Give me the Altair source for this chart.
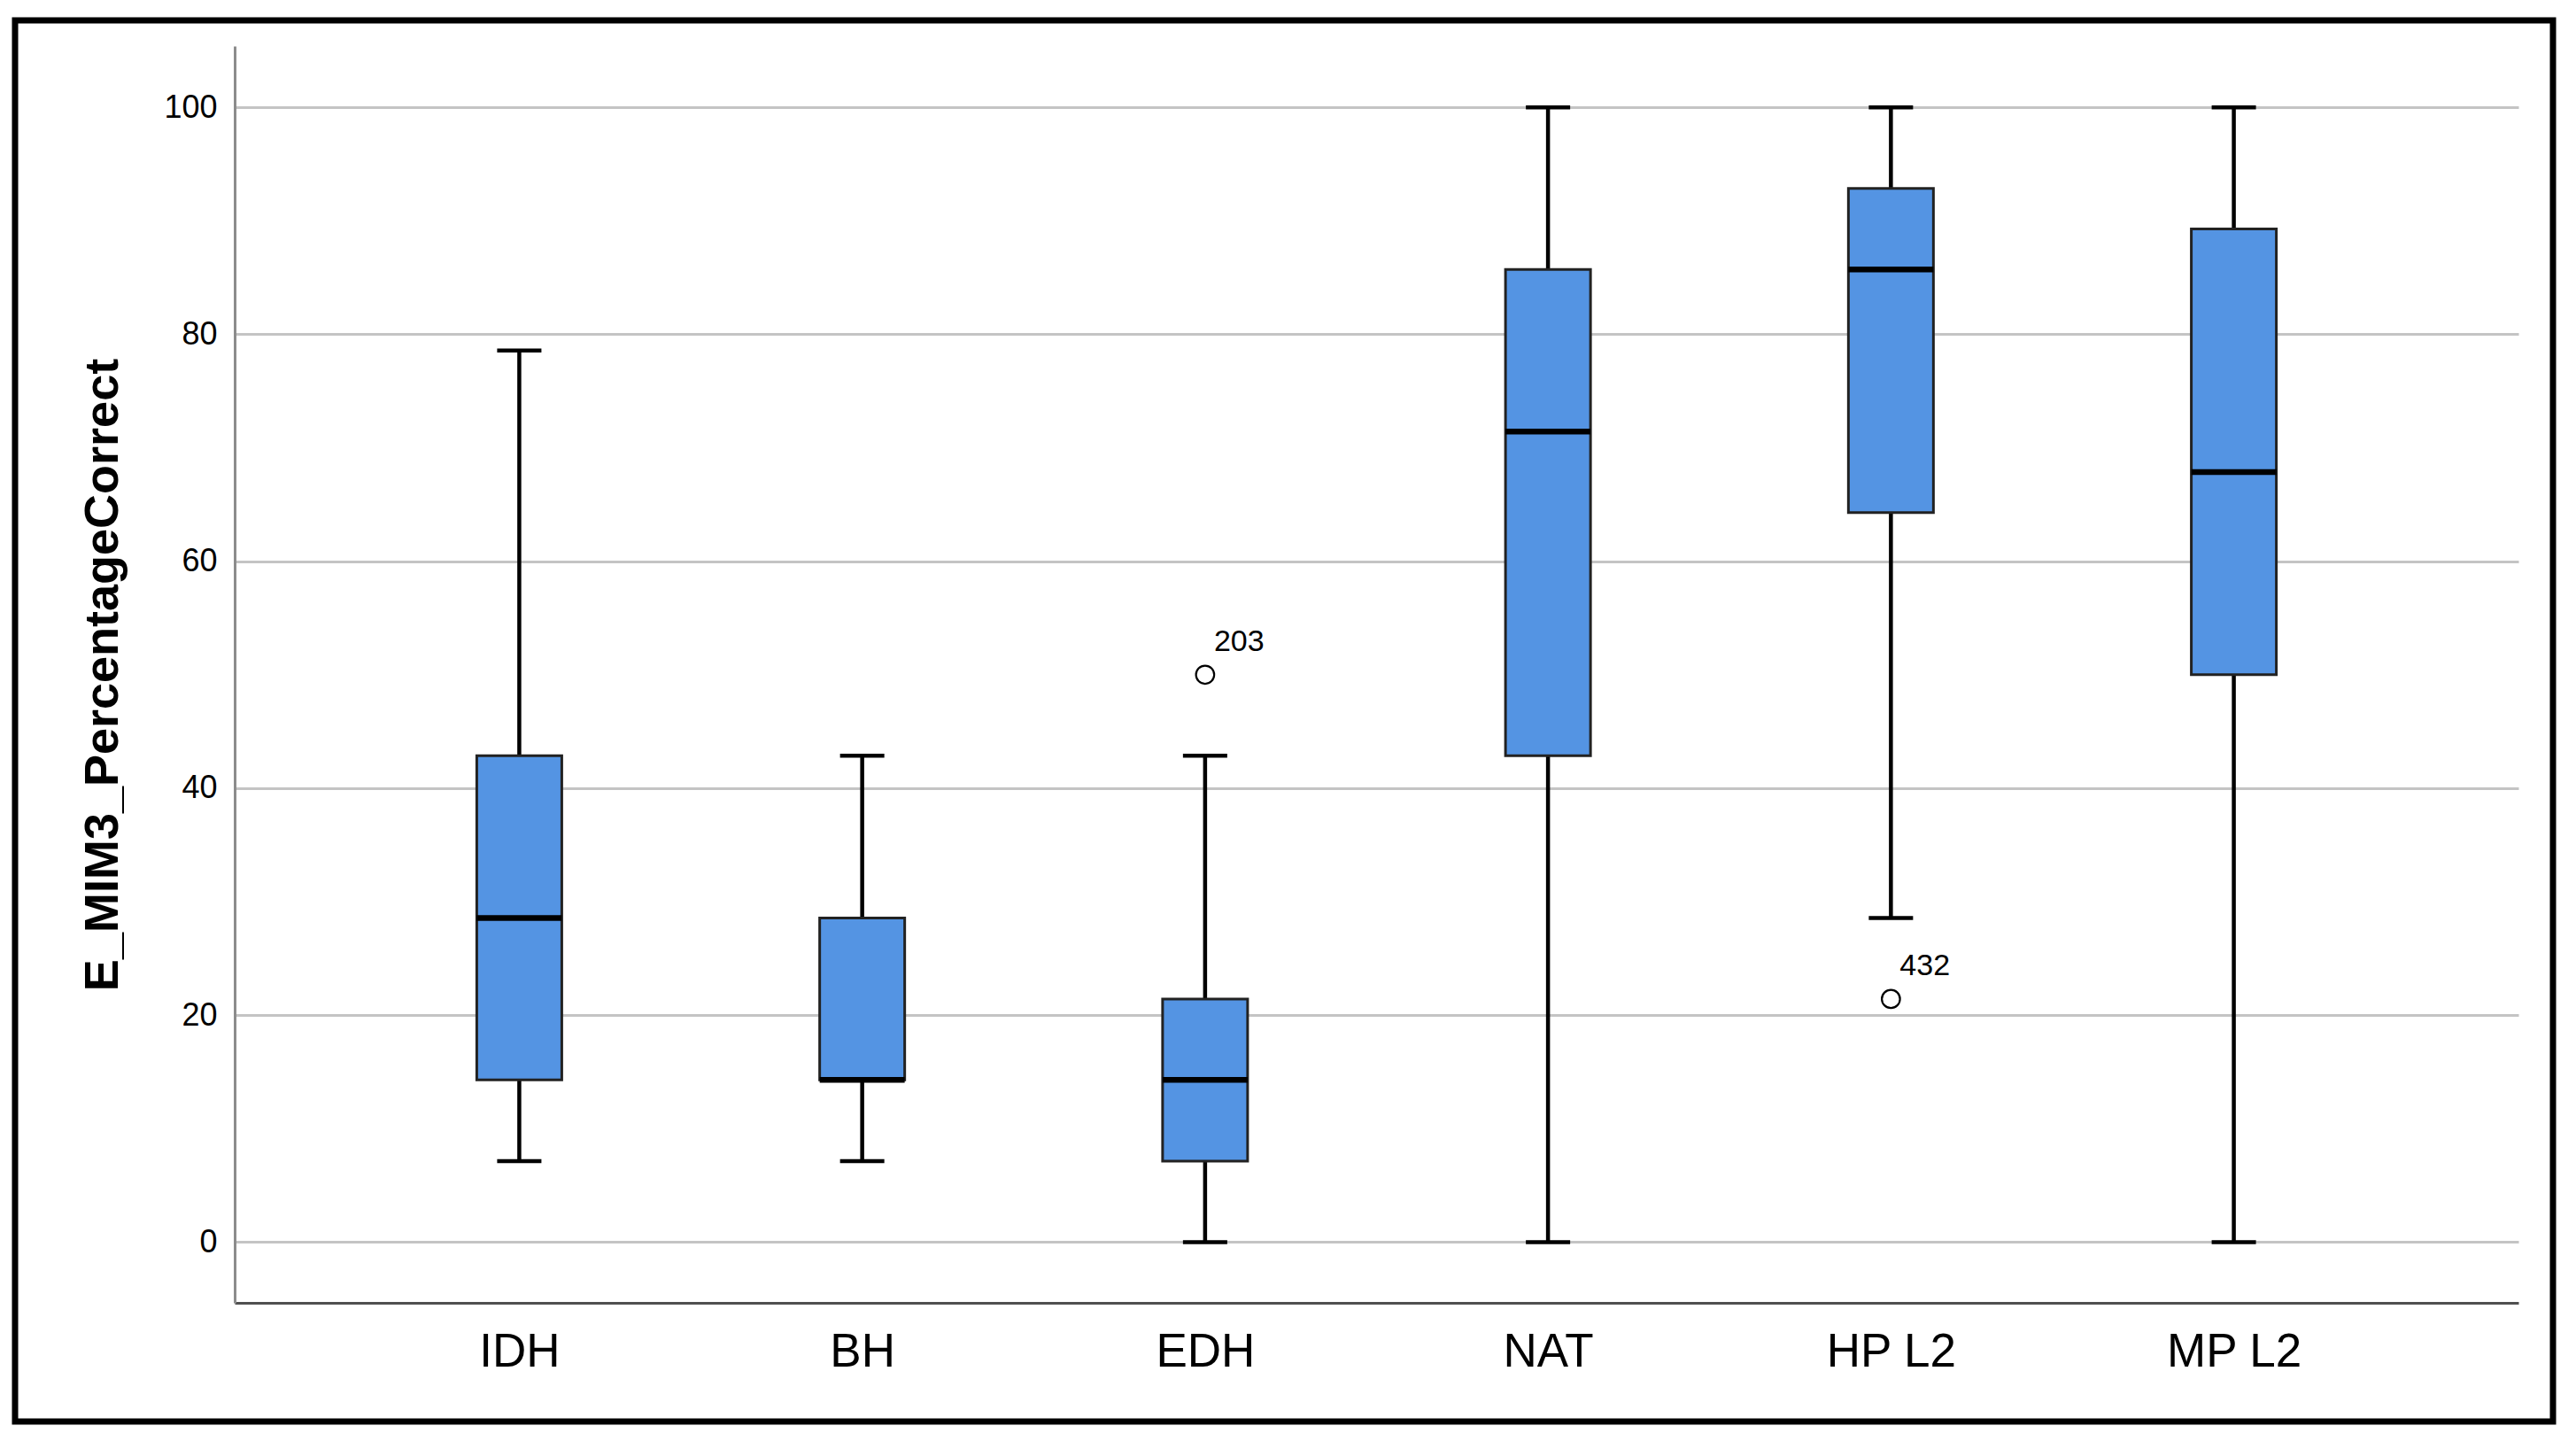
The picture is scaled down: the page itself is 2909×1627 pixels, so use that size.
import altair as alt
import pandas as pd

# ---- data ----
categories = ["IDH", "BH", "EDH", "NAT", "HP L2", "MP L2"]
lower_whisker = [7.14, 7.14, 0.0, 0.0, 28.57, 0.0]
q1 = [14.29, 14.29, 7.14, 42.86, 64.29, 50.0]
median = [28.57, 14.29, 14.29, 71.43, 85.71, 67.86]
q3 = [42.86, 28.57, 21.43, 85.71, 92.86, 89.29]
upper_whisker = [78.57, 42.86, 42.86, 100.0, 100.0, 100.0]

outlier_cat = ["EDH", "HP L2"]
outlier_val = [50.0, 21.43]
outlier_id = ["203", "432"]

y_ticks = [0, 20, 40, 60, 80, 100]

box_df = pd.DataFrame({
    "group": categories,
    "lower": lower_whisker,
    "q1": q1,
    "median": median,
    "q3": q3,
    "upper": upper_whisker,
})
out_df = pd.DataFrame({"group": outlier_cat, "value": outlier_val, "id": outlier_id})
frame_df = pd.DataFrame({"k": [0]})

FONT = "Liberation Sans"
W, H = 2579, 1419

x_enc = alt.X(
    "group:N",
    sort=categories,
    scale=alt.Scale(type="point", padding=0.83),
    axis=alt.Axis(
        title=None, labelAngle=0, labelFont=FONT, labelFontSize=53,
        labelColor="#000000", labelPadding=29, ticks=False, tickSize=0,
        domainColor="#505050", domainWidth=3, grid=False,
    ),
)
y_scale = alt.Scale(domain=[-5.35, 105.4], nice=False, zero=False)
y_axis = alt.Axis(
    title="E_MIM3_PercentageCorrect", values=y_ticks, labelFont=FONT,
    labelFontSize=36, labelColor="#000000", labelPadding=20, ticks=False,
    tickSize=0, domainColor="#8C8C8C", domainWidth=3, grid=True,
    gridColor="#C4C4C4", gridWidth=3, titleFont=FONT, titleFontSize=54,
    titleFontWeight="bold", titleColor="#000000", titleAngle=270,
    titleX=-133, titleY=H / 2, titleAlign="center", titleBaseline="alphabetic",
)

base = alt.Chart(box_df)

whisker = base.mark_rule(color="#000000", strokeWidth=4.5, opacity=1).encode(
    x=x_enc,
    y=alt.Y("lower:Q", scale=y_scale, axis=y_axis),
    y2="upper:Q",
)
cap_low = base.mark_tick(color="#000000", size=50, thickness=4.5, opacity=1).encode(
    x=x_enc, y=alt.Y("lower:Q", scale=y_scale)
)
cap_high = base.mark_tick(color="#000000", size=50, thickness=4.5, opacity=1).encode(
    x=x_enc, y=alt.Y("upper:Q", scale=y_scale)
)
box = base.mark_bar(size=96, fill="#5494E3", stroke="#222222", strokeWidth=3,
                    opacity=1).encode(
    x=x_enc, y=alt.Y("q1:Q", scale=y_scale), y2="q3:Q"
)
med = base.mark_tick(color="#000000", size=96, thickness=6.5, opacity=1).encode(
    x=x_enc, y=alt.Y("median:Q", scale=y_scale)
)

outliers = alt.Chart(out_df).mark_point(
    shape="circle", filled=False, stroke="#000000", strokeWidth=2.2, size=420,
    opacity=1
).encode(x=x_enc, y=alt.Y("value:Q", scale=y_scale))

out_labels = alt.Chart(out_df).mark_text(
    align="left", baseline="alphabetic", dx=10, dy=-27, font=FONT,
    fontSize=34, color="#000000"
).encode(x=x_enc, y=alt.Y("value:Q", scale=y_scale), text="id:N")

frame = alt.Chart(frame_df).mark_rect(
    fillOpacity=0, stroke="#000000", strokeWidth=7
).encode(
    x=alt.value(-248), x2=alt.value(2618), y=alt.value(-29), y2=alt.value(1553)
)

chart = alt.layer(
    whisker, cap_low, cap_high, box, med, outliers, out_labels, frame
).properties(
    width=W, height=H,
    autosize=alt.AutoSizeParams(type="none"),
    padding={"left": 257, "top": 44, "right": 50, "bottom": 140},
    background="#FFFFFF",
).configure_view(strokeWidth=0)

chart.save("out.html", embed_options={"renderer": "svg", "actions": False})
